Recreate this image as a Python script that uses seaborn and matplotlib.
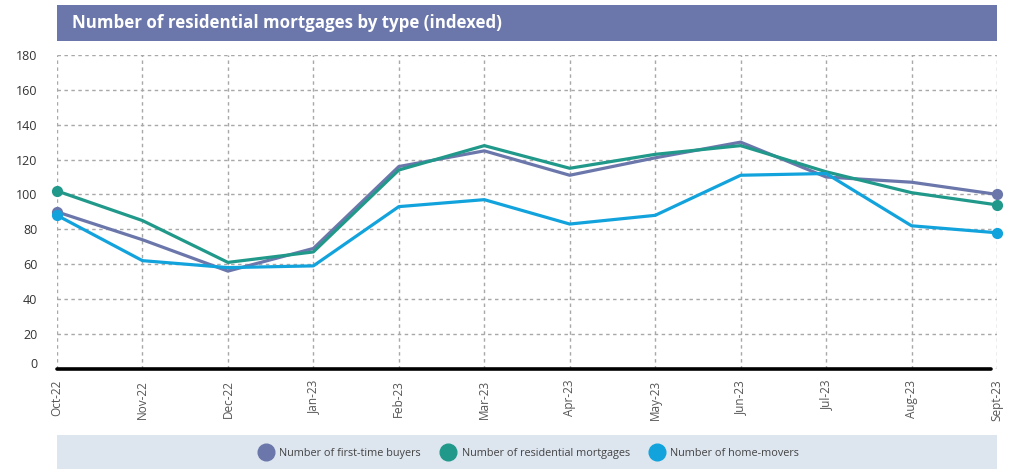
import matplotlib
matplotlib.use("Agg")
import matplotlib.pyplot as plt
import matplotlib.transforms as mtransforms
from matplotlib.patches import Rectangle
from matplotlib.lines import Line2D
import seaborn as sns
import pandas as pd

months = ["Oct-22", "Nov-22", "Dec-22", "Jan-23", "Feb-23", "Mar-23",
          "Apr-23", "May-23", "Jun-23", "Jul-23", "Aug-23", "Sept-23"]
first_time_buyers = [90, 74, 56, 69, 116, 125, 111, 121, 130, 110, 107, 100]
residential_mortgages = [102, 85, 61, 67, 114, 128, 115, 123, 128, 113, 101, 94]
home_movers = [88, 62, 58, 59, 93, 97, 83, 88, 111, 112, 82, 78]
series_names = ["Number of first-time buyers", "Number of residential mortgages",
                "Number of home-movers"]
colors = ["#6B77AB", "#21998A", "#12A3DD"]

rows = []
for name, vals in zip(series_names, [first_time_buyers, residential_mortgages, home_movers]):
    for i, (m, v) in enumerate(zip(months, vals)):
        rows.append({"idx": i, "month": m, "value": v, "series": name})
df = pd.DataFrame(rows)

sns.set_theme(style="white")
plt.rcParams["font.family"] = ["Open Sans", "DejaVu Sans"]

fig = plt.figure(figsize=(10.11, 4.69), dpi=100)
ax = fig.add_axes([57 / 1011, 1 - 368.7 / 469, 940 / 1011, (368.7 - 55) / 469])

palette = dict(zip(series_names, colors))
sns.lineplot(data=df, x="idx", y="value", hue="series", palette=palette,
             linewidth=2.3, ax=ax, legend=False, zorder=3)
ends = df[df["idx"].isin([0, len(months) - 1])]
for name in series_names:
    sub = ends[ends["series"] == name]
    ax.scatter(sub["idx"], sub["value"], s=65, color=palette[name], zorder=4,
               clip_on=False, linewidths=0)

ax.set_xlim(0, len(months) - 1)
ax.set_ylim(0, 180)
ax.set_yticks(range(0, 181, 20))
ax.set_xticks(range(len(months)))
ax.set_xticklabels(months, rotation=90, fontsize=8.5, color="#555555")
ax.tick_params(axis="y", labelsize=9, colors="#333333", length=0, pad=14)
ax.tick_params(axis="x", length=0, pad=8)
ylabels = ax.get_yticklabels()
for lab in ylabels:
    lab.set_horizontalalignment("right")
ylabels[0].set_transform(ylabels[0].get_transform() +
                         mtransforms.ScaledTranslation(0, 6 / 100, fig.dpi_scale_trans))
ax.set_xlabel("")
ax.set_ylabel("")
for s in ax.spines.values():
    s.set_visible(False)
ax.grid(True, which="major", axis="both", linestyle=(0, (2.5, 2.5)),
        color="#A8A8A8", linewidth=1.0, zorder=0)
ax.axhline(0, xmin=0, xmax=0.994, color="black", linewidth=2.6, zorder=5, clip_on=False)

# Title bar
fig.patches.append(Rectangle((57 / 1011, 1 - 41 / 469), 940 / 1011, 36 / 469,
                             transform=fig.transFigure, facecolor="#6B77AB",
                             edgecolor="none", zorder=0))
fig.text(72 / 1011, 1 - 23 / 469, "Number of residential mortgages by type (indexed)",
         color="white", fontsize=12.2, fontweight="bold", va="center", ha="left")

# Legend band
fig.patches.append(Rectangle((57 / 1011, 0), 940 / 1011, 34 / 469,
                             transform=fig.transFigure, facecolor="#DDE5EF",
                             edgecolor="none", zorder=0))
handles = [Line2D([], [], linestyle="none", marker="o", markersize=12,
                  markerfacecolor=c, markeredgecolor=c) for c in colors]
leg = fig.legend(handles, series_names, loc="center", ncol=3,
                 bbox_to_anchor=(527 / 1011, 1 - 453 / 469), frameon=False,
                 fontsize=7.8, handletextpad=0.25, columnspacing=1.5,
                 labelcolor="#444444")

fig.savefig("out.png", dpi=100)
